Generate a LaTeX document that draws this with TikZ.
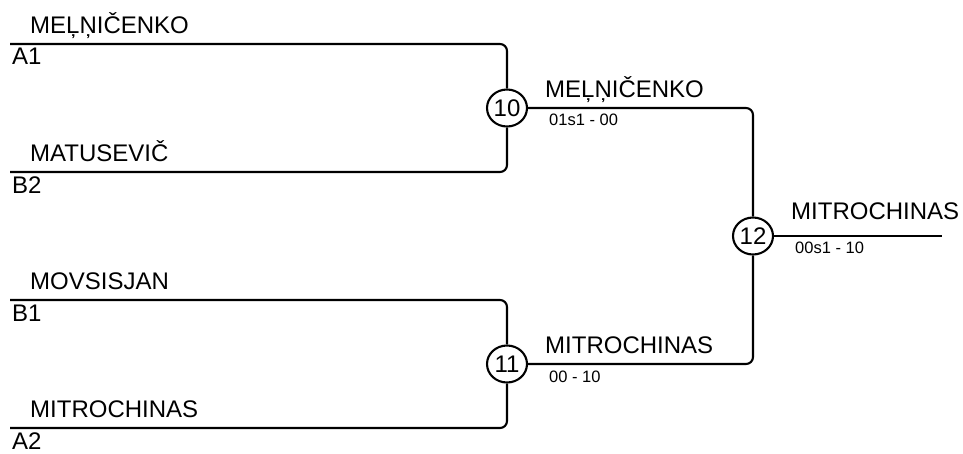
\documentclass[tikz,border=0pt]{standalone}
\usepackage{fontspec}
\setmainfont{Liberation Sans}
\usetikzlibrary{shapes.geometric}
\begin{document}
\begin{tikzpicture}[x=1pt,y=-1pt,
  player/.style={anchor=base west,inner sep=0pt,font=\fontsize{24}{26}\selectfont},
  score/.style={anchor=base west,inner sep=0pt,font=\fontsize{16.5}{18}\selectfont},
  match/.style={draw,ellipse,line width=2.1pt,minimum width=40pt,minimum height=37pt,inner sep=0pt,font=\fontsize{24}{26}\selectfont},
  wire/.style={line width=2.1pt,rounded corners=7pt}]
\useasboundingbox (0,0) rectangle (963,453);
% coordinates
\coordinate (a1) at (10,44);
\coordinate (b2) at (10,172);
\coordinate (b1) at (10,300);
\coordinate (a2) at (10,428);
\coordinate (fin) at (942,236);
% matches
\node[match] (m10) at (507,108) {10};
\node[match] (m11) at (507,364) {11};
\node[match] (m12) at (753,236) {12};
% wires
\draw[wire] (a1) -| (m10);
\draw[wire] (b2) -| (m10);
\draw[wire] (b1) -| (m11);
\draw[wire] (a2) -| (m11);
\draw[wire] (m10) -| (m12);
\draw[wire] (m11) -| (m12);
\draw[wire] (m12) -- (fin);
% labels
\node[player] (t1) at (30,33) {MEĻŅIČENKO};
\node[player] (t2) at (12,64) {A1};
\node[player] (t3) at (30,161) {MATUSEVIČ};
\node[player] (t4) at (12,193) {B2};
\node[player] (t5) at (30,289) {MOVSISJAN};
\node[player] (t6) at (12,321) {B1};
\node[player] (t7) at (30,417) {MITROCHINAS};
\node[player] (t8) at (12,449) {A2};
\node[player] (w1) at (545,97) {MEĻŅIČENKO};
\node[score] (s1) at (549,125) {01s1 - 00};
\node[player] (w2) at (545,353) {MITROCHINAS};
\node[score] (s2) at (549,382) {00 - 10};
\node[player] (w3) at (791,219) {MITROCHINAS};
\node[score] (s3) at (795,253) {00s1 - 10};
\end{tikzpicture}
\end{document}
